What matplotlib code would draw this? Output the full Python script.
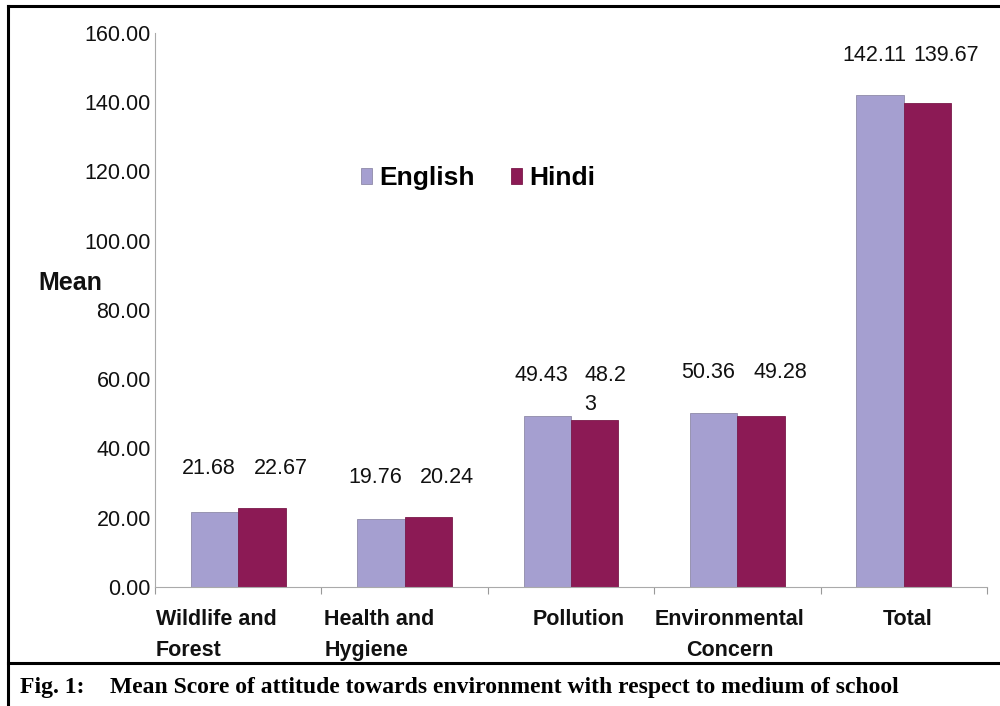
import matplotlib
matplotlib.use("Agg")
import matplotlib.pyplot as plt
import numpy as np
from matplotlib.transforms import ScaledTranslation
from matplotlib.lines import Line2D

# Mean attitude scores by medium of school
categories = ["Wildlife and\nForest", "Health and\nHygiene", "Pollution",
              "Environmental\nConcern", "Total"]
english = [21.68, 19.76, 49.43, 50.36, 142.11]
hindi = [22.67, 20.24, 48.23, 49.28, 139.67]
english_labels = ["21.68", "19.76", "49.43", "50.36", "142.11"]
hindi_labels = ["22.67", "20.24", "48.2\n3", "49.28", "139.67"]
y_ticks = [0, 20, 40, 60, 80, 100, 120, 140, 160]

plt.rcParams["font.family"] = ["Liberation Sans", "DejaVu Sans"]

fig = plt.figure(figsize=(10, 7.06), dpi=100)
ax = fig.add_axes([0.155, 0.1686, 0.832, 0.7847])

x = np.arange(len(categories))
w = 0.285
c_eng = "#a59fd0"
c_hin = "#8c1a55"
ax.bar(x - w / 2, english, w, color=c_eng, edgecolor="#8f8aa8", linewidth=0.6,
       label="English", zorder=2)
ax.bar(x + w / 2, hindi, w, color=c_hin, edgecolor="#7a1a4a", linewidth=0.6,
       label="Hindi", zorder=2)

# value labels above each group
for i in range(len(categories)):
    top = max(english[i], hindi[i]) + 11.5
    ax.annotate(english_labels[i], (x[i] - w / 2, top), xytext=(-6, 0),
                textcoords="offset pixels", ha="center", va="center",
                fontsize=15.5, color="#111111")
    if "\n" in hindi_labels[i]:
        ax.annotate(hindi_labels[i], (x[i] + w / 2, top), xytext=(-10, 11),
                    textcoords="offset pixels", ha="left", va="top",
                    fontsize=15.5, color="#111111", linespacing=1.5)
    else:
        ax.annotate(hindi_labels[i], (x[i] + w / 2, top), xytext=(19, 0),
                    textcoords="offset pixels", ha="center", va="center",
                    fontsize=15.5, color="#111111")

ax.set_xlim(-0.5, len(categories) - 0.5)
ax.set_ylim(0, 160)
ax.set_yticks(y_ticks)
ax.set_yticklabels([f"{v:.2f}" for v in y_ticks], fontsize=15.5, color="#111111")
ax.tick_params(axis="y", length=0, pad=3)

ax.set_xticks(x)
ax.set_xticklabels(categories, fontsize=15.5, fontweight="bold", color="#111111",
                   linespacing=1.6)
ax.tick_params(axis="x", length=0, pad=16)
ax.set_xticks(np.arange(len(categories) + 1) - 0.5, minor=True)
ax.tick_params(axis="x", which="minor", length=5, color="#999999", width=0.8)

# per-label nudges and alignment for the category names
nudges = [(-22, "left"), (-25, "left"), (8, "center"), (-8, "center"), (4, "center")]
for lab, (dx, align) in zip(ax.get_xticklabels(), nudges):
    lab.set_multialignment(align)
    lab.set_transform(lab.get_transform() + ScaledTranslation(dx / 100, 0, fig.dpi_scale_trans))

for s in ["top", "right"]:
    ax.spines[s].set_visible(False)
ax.spines["left"].set_color("#aaaaaa")
ax.spines["bottom"].set_color("#aaaaaa")
ax.spines["left"].set_linewidth(0.8)
ax.spines["bottom"].set_linewidth(0.8)

ax.set_ylabel("Mean", rotation=0, fontsize=18, fontweight="bold", color="#111111",
              va="center", ha="center")
ax.yaxis.set_label_coords(-0.1016, 0.549)

leg = fig.legend(loc="center", bbox_to_anchor=(0.478, 0.748), ncol=2, frameon=False,
                 prop={"weight": "bold", "size": 19}, handlelength=0.42,
                 handleheight=0.55, handletextpad=0.25, columnspacing=1.4)

# frame and caption box
lw = 2.2
fig.add_artist(Line2D([0.008, 0.008], [0, 0.9915], color="black", lw=lw,
                      transform=fig.transFigure))
fig.add_artist(Line2D([0.008, 1.0], [0.9915, 0.9915], color="black", lw=lw,
                      transform=fig.transFigure))
fig.add_artist(Line2D([0.008, 1.0], [0.0609, 0.0609], color="black", lw=lw,
                      transform=fig.transFigure))

fig.text(0.020, 0.026, "Fig. 1:", fontsize=17, fontweight="bold",
         family="Liberation Serif", va="center", ha="left")
fig.text(0.110, 0.026,
         "Mean Score of attitude towards environment with respect to medium of school",
         fontsize=17, fontweight="bold", family="Liberation Serif", va="center", ha="left")

fig.savefig("out.png", dpi=100)
